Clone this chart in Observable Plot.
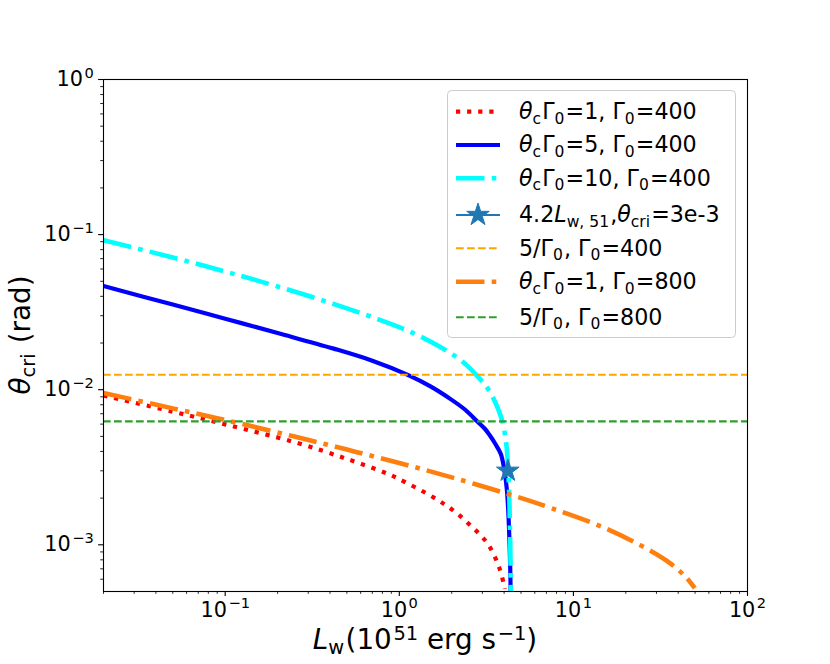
<!DOCTYPE html>
<html>
<head>
<meta charset="utf-8">
<script src="https://cdn.jsdelivr.net/npm/d3@7"></script>
<script src="https://cdn.jsdelivr.net/npm/@observablehq/plot@0.6"></script>
<style>
html, body { margin: 0; padding: 0; background: #fff; }
#chart { width: 830px; height: 664px; }
svg text { white-space: pre; }
</style>
</head>
<body>
<div id="chart"></div>
<script>
// ---- data ----
const redX  = [0.02, 0.05, 0.1, 0.25, 0.5, 0.853, 1.0, 1.55, 2.02, 2.57, 3.21, 3.74, 4.04];
const redY  = [0.00916, 0.00722, 0.00598, 0.00459, 0.00358, 0.00288, 0.00265, 0.00204, 0.00168, 0.00133, 0.00102, 0.00072, 0.00052];

const blueX = [0.02, 0.05, 0.1, 0.2, 0.42, 0.7, 1.11, 1.51, 2.0, 2.4, 2.81, 3.1, 3.3, 3.55, 3.83, 4.0, 4.14, 4.22, 4.27, 4.31, 4.34, 4.36];
const blueY = [0.0466, 0.0354, 0.0287, 0.0232, 0.0184, 0.01538, 0.0125, 0.0105, 0.0086, 0.0074, 0.00623, 0.0056, 0.0051, 0.0045, 0.00385, 0.0031, 0.00232, 0.0017, 0.00125, 0.00092, 0.00068, 0.0005];

const cyanX = [0.02, 0.05, 0.1, 0.2, 0.42, 0.8, 1.21, 1.8, 2.35, 2.81, 3.2, 3.5, 3.75, 3.91, 4.05, 4.14, 4.22, 4.27, 4.31, 4.34, 4.37];
const cyanY = [0.092, 0.0712, 0.0578, 0.0463, 0.0357, 0.0278, 0.0231, 0.01832, 0.0149, 0.01222, 0.0103, 0.00863, 0.0072, 0.00625, 0.0051, 0.0042, 0.0031, 0.00232, 0.0015, 0.00098, 0.0005];

const orangeX = [0.02, 0.05, 0.112, 0.25, 0.5, 1.0, 2.0, 4.2, 7.4, 15, 26.6, 36, 44.3, 49.8];
const orangeY = [0.00953, 0.00758, 0.00619, 0.00499, 0.00411, 0.00337, 0.00272, 0.00213, 0.00173, 0.00129, 0.00094, 0.00076, 0.000618, 0.000525];

const starX = [4.2];
const starY = [0.003];

const hLevel400 = [0.0125];
const hLevel800 = [0.00625];

const xMajor = [0.1, 1, 10, 100];
const xMinor = [0.02, 0.03, 0.04, 0.05, 0.06, 0.07, 0.08, 0.09,
                0.2, 0.3, 0.4, 0.5, 0.6, 0.7, 0.8, 0.9,
                2, 3, 4, 5, 6, 7, 8, 9,
                20, 30, 40, 50, 60, 70, 80, 90];
const yMajor = [0.001, 0.01, 0.1, 1];
const yMinor = [0.0006, 0.0007, 0.0008, 0.0009,
                0.002, 0.003, 0.004, 0.005, 0.006, 0.007, 0.008, 0.009,
                0.02, 0.03, 0.04, 0.05, 0.06, 0.07, 0.08, 0.09,
                0.2, 0.3, 0.4, 0.5, 0.6, 0.7, 0.8, 0.9];

// labels: [text, kind] with kind n=normal, i=italic, sub, sup
const legendLabels = [
  [["θ","i"],["c","sub"],["Γ","n"],["0","sub"],["=1, Γ","n"],["0","sub"],["=400","n"]],
  [["θ","i"],["c","sub"],["Γ","n"],["0","sub"],["=5, Γ","n"],["0","sub"],["=400","n"]],
  [["θ","i"],["c","sub"],["Γ","n"],["0","sub"],["=10, Γ","n"],["0","sub"],["=400","n"]],
  [["4.2","n"],["L","i"],["w, 51","sub"],[",","n"],["θ","i"],["cri","sub"],["=3e-3","n"]],
  [["5/Γ","n"],["0","sub"],[", Γ","n"],["0","sub"],["=400","n"]],
  [["θ","i"],["c","sub"],["Γ","n"],["0","sub"],["=1, Γ","n"],["0","sub"],["=800","n"]],
  [["5/Γ","n"],["0","sub"],[", Γ","n"],["0","sub"],["=800","n"]]
];
const xLabelParts = [["L","i"],["w","sub"],["(10","n"],["51","sup"],[" erg s","n"],["\u22121","sup"],[")","n"]];
const yLabelParts = [["θ","i"],["cri","sub"],[" (rad)","n"]];

// ---- styles ----
const C0 = "#1f77b4", C1 = "#ff7f0e", C2 = "#2ca02c";
const styleRed    = {stroke: "#ff0000", strokeWidth: 4.2, strokeDasharray: "4.2,6.9"};
const styleBlue   = {stroke: "#0000ff", strokeWidth: 4.2, strokeDasharray: null};
const styleCyan   = {stroke: "#00ffff", strokeWidth: 4.6, strokeDasharray: "28.5,7.2,4.6,7.2"};
const styleOr400  = {stroke: "#ffa500", strokeWidth: 2.08, strokeDasharray: "7.7,3.3"};
const styleOr800  = {stroke: C1, strokeWidth: 4.6, strokeDasharray: "28.5,7.2,4.6,7.2"};
const styleGr800  = {stroke: C2, strokeWidth: 2.08, strokeDasharray: "7.7,3.3"};
const styleStar   = {stroke: C0, strokeWidth: 2.08, strokeDasharray: null, star: true};
const legendStyles = [styleRed, styleBlue, styleCyan, styleStar, styleOr400, styleOr800, styleGr800];

const pts = (xs, ys) => xs.map((x, i) => ({x, y: ys[i]}));
const lineMark = (xs, ys, s) => Plot.line(pts(xs, ys), {
  x: "x", y: "y", stroke: s.stroke, strokeWidth: s.strokeWidth,
  strokeDasharray: s.strokeDasharray || undefined, strokeLinecap: "butt",
  curve: "catmull-rom", clip: true
});

const chart = Plot.plot({
  width: 830, height: 664,
  marginLeft: 103, marginRight: 83, marginTop: 79, marginBottom: 73,
  x: {type: "log", domain: [0.02, 100], label: null},
  y: {type: "log", domain: [0.0005, 1], label: null},
  style: {fontFamily: '"DejaVu Sans", sans-serif', background: "white", color: "black"},
  marks: [
    lineMark(redX, redY, styleRed),
    lineMark(blueX, blueY, styleBlue),
    lineMark(cyanX, cyanY, styleCyan),
    Plot.dot(pts(starX, starY), {x: "x", y: "y", symbol: "star", r: 7.1, fill: C0, stroke: C0, strokeWidth: 1}),
    Plot.ruleY(hLevel400, {stroke: styleOr400.stroke, strokeWidth: styleOr400.strokeWidth, strokeDasharray: styleOr400.strokeDasharray}),
    lineMark(orangeX, orangeY, styleOr800),
    Plot.ruleY(hLevel800, {stroke: styleGr800.stroke, strokeWidth: styleGr800.strokeWidth, strokeDasharray: styleGr800.strokeDasharray}),
    Plot.frame({stroke: "black", strokeWidth: 1.1}),
    Plot.axisX({ticks: xMinor, tickSize: 2.8, tickFormat: () => "", strokeWidth: 0.85, label: null}),
    Plot.axisX({ticks: xMajor, tickSize: 4.9, tickPadding: 5.5, fontSize: 20.8, strokeWidth: 1.1, label: null,
                tickFormat: d => "10^" + Math.round(Math.log10(d))}),
    Plot.axisY({ticks: yMinor, tickSize: 2.8, tickFormat: () => "", strokeWidth: 0.85, label: null}),
    Plot.axisY({ticks: yMajor, tickSize: 4.9, tickPadding: 4.8, fontSize: 20.8, strokeWidth: 1.1, label: null,
                tickFormat: d => "10^" + Math.round(Math.log10(d))})
  ]
});

document.getElementById("chart").appendChild(chart);
const svg = d3.select(chart);

// rich text builder (subscripts / superscripts)
function rich(textSel, parts, size, supRaise = 0.36) {
  let shift = 0, prev = null;
  for (const [s, k] of parts) {
    const t = textSel.append("tspan").text(s);
    let target = 0, fs = size;
    if (k === "sub") { target = size * 0.21; fs = size * 0.7; }
    if (k === "sup") { target = -size * supRaise; fs = size * 0.7; t.attr("dx", size * 0.06); }
    if (k === "i") t.attr("font-style", "italic");
    if (prev === "sub" && k !== "sub") t.attr("dx", size * 0.05);
    t.attr("font-size", fs);
    if (Math.abs(target - shift) > 1e-6) { t.attr("dy", target - shift); shift = target; }
    prev = k;
  }
}

// tick labels: 10^n with superscript exponent
svg.selectAll("text").each(function() {
  const s = this.textContent;
  if (!s || !s.startsWith("10^")) return;
  const e = s.slice(3).replace("-", "\u2212");
  const t = d3.select(this);
  t.text(null);
  t.append("tspan").text("10");
  t.append("tspan").attr("dx", 1.5).attr("dy", -8.4).attr("font-size", 14.6).text(e);
});

// axis labels
const FF = '"DejaVu Sans", sans-serif';
const AX = 27.8;
const xl = svg.append("text").attr("x", 425).attr("y", 648.5).attr("text-anchor", "middle")
  .attr("font-family", FF).attr("font-size", AX).attr("fill", "black");
rich(xl, xLabelParts, AX, 0.3);
const yl = svg.append("text").attr("transform", "translate(29.6,335) rotate(-90)").attr("text-anchor", "middle")
  .attr("font-family", FF).attr("font-size", AX).attr("fill", "black");
rich(yl, yLabelParts, AX);

// legend
const LF = 22.2;
const lg = svg.append("g").attr("font-family", FF).attr("text-anchor", "start");
lg.append("rect").attr("x", 447.5).attr("y", 90.5).attr("width", 288).attr("height", 247)
  .attr("rx", 4).attr("fill", "white").attr("fill-opacity", 0.8).attr("stroke", "#cccccc").attr("stroke-width", 1);
const rowY = [111.7, 145, 178.3, 215, 248.3, 281.7, 317.3];
const hx1 = 456, hx2 = 500;
legendStyles.forEach((s, i) => {
  const y = rowY[i];
  const ln = lg.append("line").attr("x1", hx1).attr("x2", hx2).attr("y1", y).attr("y2", y)
    .attr("stroke", s.stroke).attr("stroke-width", s.strokeWidth).attr("stroke-linecap", "butt");
  if (s.strokeDasharray) ln.attr("stroke-dasharray", s.strokeDasharray);
  if (s.star) {
    lg.append("path").attr("d", d3.symbol(d3.symbolStar, 7.1 * 7.1 * Math.PI)())
      .attr("transform", `translate(${(hx1 + hx2) / 2},${y})`).attr("fill", C0).attr("stroke", C0).attr("stroke-width", 1);
  }
  const t = lg.append("text").attr("x", 519).attr("y", y + 7.2).attr("font-size", LF)
    .attr("fill", "black").attr("text-anchor", "start");
  rich(t, legendLabels[i], LF);
});
</script>
</body>
</html>
